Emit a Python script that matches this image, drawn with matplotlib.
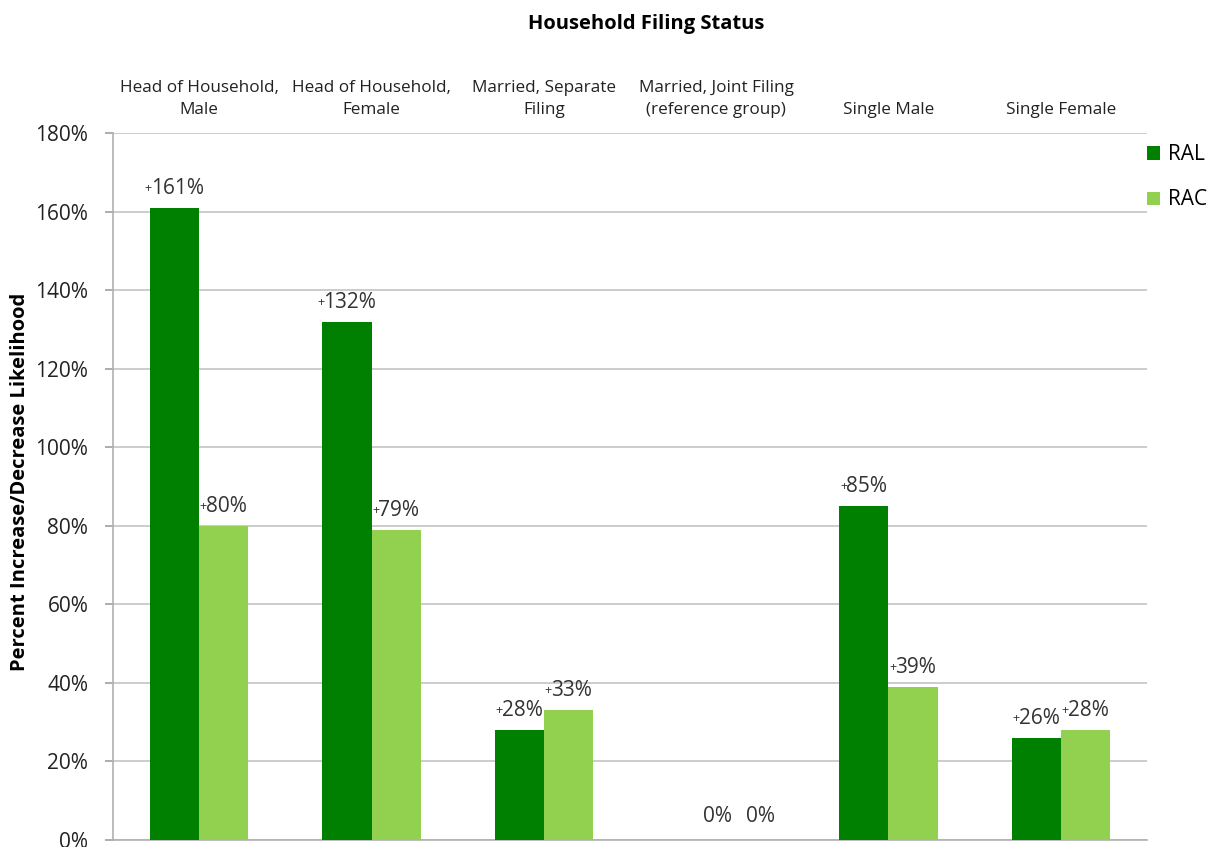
import matplotlib
matplotlib.use("Agg")
import matplotlib.pyplot as plt
import numpy as np

categories = ["Head of Household,\nMale", "Head of Household,\nFemale", "Married, Separate\nFiling",
              "Married, Joint Filing\n(reference group)", "Single Male", "Single Female"]
ral = [161, 132, 28, 0, 85, 26]
rac = [80, 79, 33, 0, 39, 28]
yticks = [0, 20, 40, 60, 80, 100, 120, 140, 160, 180]

plt.rcParams['font.family'] = ['Open Sans', 'DejaVu Sans']

fig = plt.figure(figsize=(12.1, 8.47), dpi=100)
ax = fig.add_axes([113/1210, 7/847, (1147-113)/1210, (840-133)/847])

dark = "#008000"
light = "#92D050"
x = np.arange(len(categories))
w = 0.285
b1 = ax.bar(x - w/2, ral, w, color=dark, label="RAL", zorder=3)
b2 = ax.bar(x + w/2, rac, w, color=light, label="RAC", zorder=3)

ax.set_xlim(-0.5, len(categories) - 0.5)
ax.set_ylim(0, 180)
ax.set_yticks(yticks)
ax.set_yticklabels([f"{v}%" for v in yticks], fontsize=15, color="#222222")
ax.yaxis.grid(True, color="#c4c4c4", linewidth=1.2, zorder=0)
ax.set_axisbelow(True)
ax.tick_params(axis='y', length=5.8, color="#a0a0a0", width=1.2, pad=12)

ax.xaxis.tick_top()
ax.set_xticks(x)
ax.set_xticklabels(categories, fontsize=12.3, color="#222222", linespacing=1.45)
ax.tick_params(axis='x', length=0, pad=11)

for s in ["top", "right"]:
    ax.spines[s].set_visible(False)
for s in ["left", "bottom"]:
    ax.spines[s].set_color("#b0b0b0")
    ax.spines[s].set_linewidth(1.2)

ax.set_ylabel("Percent Increase/Decrease Likelihood", fontsize=14.5, fontweight="bold",
              va="center")
ax.yaxis.set_label_coords((20 - 113) / 1034, (840 - 482) / 707)
fig.text(646/1210, 1 - 24/847, "Household Filing Status", ha="center", va="center",
         fontsize=14.5, fontweight="bold")

def label(bars, vals, zero_dx):
    for r, v in zip(bars, vals):
        cx = r.get_x() + r.get_width() / 2
        if v == 0:
            ax.annotate("0%", (cx, 0), xytext=(zero_dx, 17), textcoords="offset points",
                        ha="center", va="center", fontsize=15, color="#333333")
        else:
            t = ax.annotate(f"{v}%", (cx, v), xytext=(2, 14), textcoords="offset points",
                            ha="center", va="center", fontsize=15, color="#333333", zorder=5)
            ax.annotate("+", xy=(0.02, 0.5), xycoords=t, ha="right", va="center",
                        fontsize=9, color="#333333", zorder=5)

label(b1, ral, 19)
label(b2, rac, 14)

leg = ax.legend(loc="upper left", bbox_to_anchor=(1.0, 0.984), frameon=False, fontsize=15,
                handlelength=0.6, handleheight=0.6, handletextpad=0.4, labelspacing=1.16,
                borderaxespad=0.0, borderpad=0.0)

fig.savefig("out.png", dpi=100)
